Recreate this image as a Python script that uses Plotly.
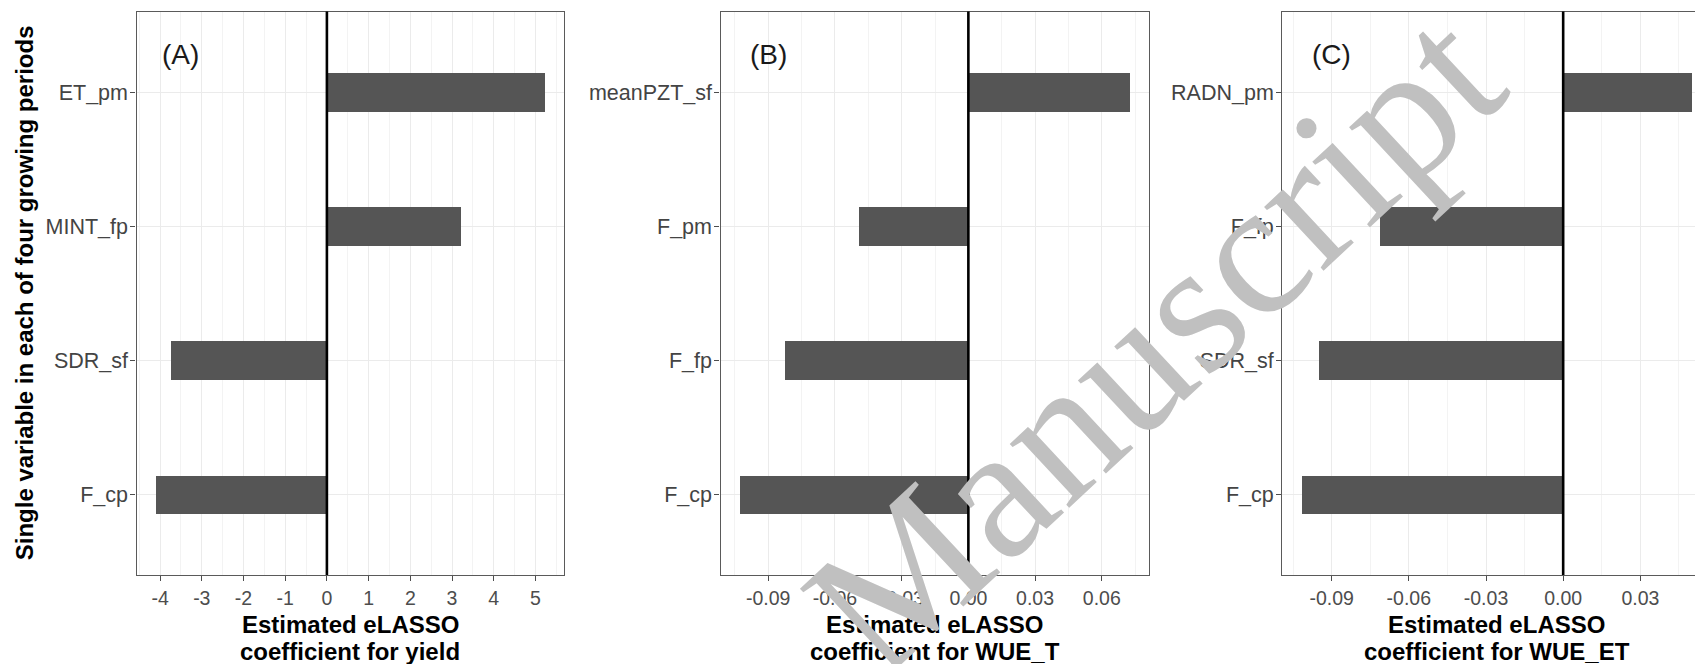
import plotly.graph_objects as go

# ---------------- data ----------------
cats_a = ["F_cp", "SDR_sf", "MINT_fp", "ET_pm"]
vals_a = [-4.10, -3.76, 3.20, 5.22]

cats_b = ["F_cp", "F_fp", "F_pm", "meanPZT_sf"]
vals_b = [-0.1027, -0.0828, -0.0494, 0.0726]

cats_c = ["F_cp", "SDR_sf", "F_fp", "RADN_pm"]
vals_c = [-0.1016, -0.0947, -0.0709, 0.0500]

ticks_a = [-4, -3, -2, -1, 0, 1, 2, 3, 4, 5]
ticklabels_a = ["-4", "-3", "-2", "-1", "0", "1", "2", "3", "4", "5"]
ticks_bc = [-0.09, -0.06, -0.03, 0.0, 0.03, 0.06]
ticklabels_bc = ["-0.09", "-0.06", "-0.03", "0.00", "0.03", "0.06"]

panel_labels = ["(A)", "(B)", "(C)"]
xtitles = [("Estimated eLASSO", "coefficient for yield"),
           ("Estimated eLASSO", "coefficient for WUE_T"),
           ("Estimated eLASSO", "coefficient for WUE_ET")]
ytitle = "Single variable in each of four growing periods"
watermark = "Manuscript"

# ---------------- layout helpers ----------------
W, H = 1695, 664
FONT = "Liberation Sans, Arial, Helvetica, sans-serif"


def fx(p):
    return p / W


def fy(p):
    return 1 - p / H


def ggrange(vals):
    lo = min(min(vals), 0)
    hi = max(max(vals), 0)
    pad = 0.05 * (hi - lo)
    return lo - pad, hi + pad


top_px, bot_px = 11.5, 575.0
ydom = [fy(bot_px), fy(top_px)]

# panel pixel extents (C is cut off by the image edge)
panels_px = [(136.5, 564.0), (720.5, 1149.3), (1282.3, 1711.3)]

ra = ggrange(vals_a)
rb = ggrange(vals_b)
rc_full = ggrange(vals_c)
c_left, c_right = panels_px[2]
frac = (W - c_left) / (c_right - c_left)
rc = (rc_full[0], rc_full[0] + frac * (rc_full[1] - rc_full[0]))

fig = go.Figure()
BAR = "#555555"
for i, (cats, vals) in enumerate([(cats_a, vals_a), (cats_b, vals_b), (cats_c, vals_c)]):
    sfx = "" if i == 0 else str(i + 1)
    fig.add_trace(go.Bar(x=vals, y=cats, orientation="h", width=0.29,
                         marker=dict(color=BAR, line=dict(width=0)),
                         xaxis="x" + sfx, yaxis="y" + sfx, showlegend=False,
                         hoverinfo="x+y"))

GRID = "#EBEBEB"
MINOR = "#F3F3F3"
FRAME = "#5A5A5A"
TICKC = "#4D4D4D"

layout = dict(width=W, height=H, margin=dict(l=0, r=0, t=0, b=0),
              paper_bgcolor="white", plot_bgcolor="white",
              font=dict(family=FONT, color=TICKC), bargap=0)

ranges = [ra, rb, rc]
minor_dt = [0.5, 0.015, 0.015]
tickv = [ticks_a, ticks_bc, ticks_bc]
tickt = [ticklabels_a, ticklabels_bc, ticklabels_bc]
cats_all = [cats_a, cats_b, cats_c]
doms = [(fx(panels_px[0][0]), fx(panels_px[0][1])),
        (fx(panels_px[1][0]), fx(panels_px[1][1])),
        (fx(panels_px[2][0]), 1.0)]

for i in range(3):
    sfx = "" if i == 0 else str(i + 1)
    layout["xaxis" + sfx] = dict(
        domain=list(doms[i]), range=list(ranges[i]), anchor="y" + sfx,
        tickmode="array", tickvals=tickv[i], ticktext=tickt[i],
        showgrid=True, gridcolor=GRID, gridwidth=1.1,
        minor=dict(tick0=0, dtick=minor_dt[i], showgrid=True, gridcolor=MINOR,
                   gridwidth=0.7, ticklen=0),
        zeroline=False, showline=True, linecolor=FRAME, linewidth=1.4, mirror=True,
        ticks="outside", ticklen=5, tickwidth=1.3, tickcolor=TICKC,
        tickfont=dict(family=FONT, size=19.5, color=TICKC), fixedrange=True)
    layout["yaxis" + sfx] = dict(
        domain=ydom, anchor="x" + sfx, type="category",
        categoryorder="array", categoryarray=cats_all[i], range=[-0.6, 3.6],
        showgrid=True, gridcolor=GRID, gridwidth=1.1,
        zeroline=False, showline=True, linecolor=FRAME, linewidth=1.4,
        mirror=(i < 2), ticklabelstandoff=-2,
        ticks="outside", ticklen=5, tickwidth=1.3, tickcolor=TICKC,
        tickfont=dict(family=FONT, size=21.5, color="#444444"), fixedrange=True)

shapes = []
annotations = []
label_x = [-3.5, -0.09, -0.09]
for i in range(3):
    sfx = "" if i == 0 else str(i + 1)
    shapes.append(dict(type="line", xref="x" + sfx, yref="y" + sfx + " domain",
                       x0=0, x1=0, y0=0, y1=1, layer="above",
                       line=dict(color="black", width=2.6)))
    annotations.append(dict(text=panel_labels[i], xref="x" + sfx, yref="y" + sfx,
                            x=label_x[i], y=3.28, showarrow=False,
                            xanchor="center", yanchor="middle",
                            font=dict(family=FONT, size=28, color="#1a1a1a")))
    cx = (panels_px[i][0] + panels_px[i][1]) / 2
    annotations.append(dict(text="<b>" + xtitles[i][0] + "</b>", xref="paper", yref="paper",
                            x=fx(cx), y=fy(624), showarrow=False,
                            xanchor="center", yanchor="middle",
                            font=dict(family=FONT, size=24, color="black")))
    annotations.append(dict(text="<b>" + xtitles[i][1] + "</b>", xref="paper", yref="paper",
                            x=fx(cx), y=fy(651.5), showarrow=False,
                            xanchor="center", yanchor="middle",
                            font=dict(family=FONT, size=24, color="black")))

annotations.append(dict(text="<b>" + ytitle + "</b>", xref="paper", yref="paper",
                        x=fx(24), y=fy((top_px + bot_px) / 2), showarrow=False,
                        textangle=-90, xanchor="center", yanchor="middle",
                        font=dict(family=FONT, size=24, color="black")))

annotations.append(dict(text=watermark, xref="paper", yref="paper",
                        x=fx(1153), y=fy(342), showarrow=False, textangle=-43,
                        xanchor="center", yanchor="middle",
                        font=dict(family="Liberation Serif, Times New Roman, serif",
                                  size=190, color="#C0C0C0")))

layout["shapes"] = shapes
layout["annotations"] = annotations
fig.update_layout(**layout)

fig.write_html("out.html", config={"displayModeBar": False},
               post_script="document.body.style.margin='0px';document.body.style.overflow='hidden';")
